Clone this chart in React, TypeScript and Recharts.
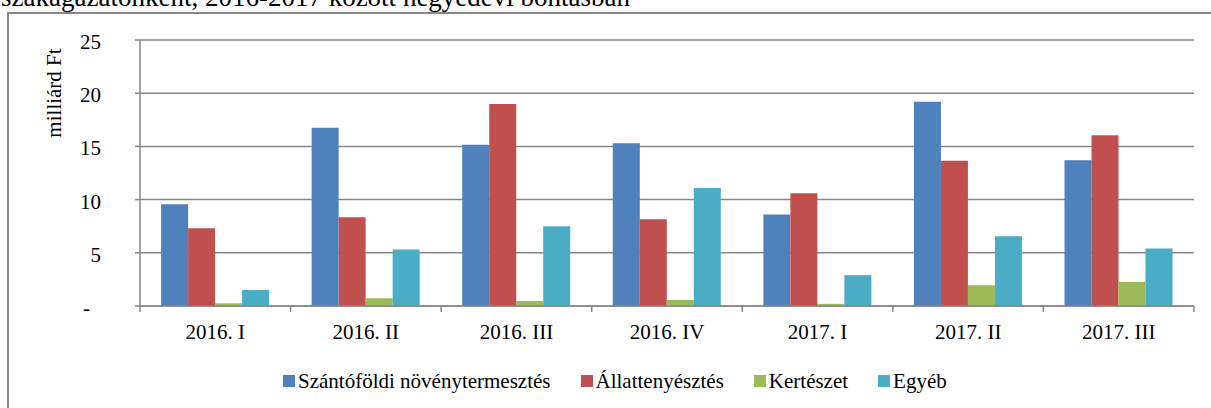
import React from 'react'
import { BarChart, Bar, XAxis, YAxis, CartesianGrid, Legend } from 'recharts'

const categories = ['2016. I', '2016. II', '2016. III', '2016. IV', '2017. I', '2017. II', '2017. III']
const szantofoldi = [9.57, 16.76, 15.15, 15.3, 8.6, 19.2, 13.7]
const allattenyesztes = [7.3, 8.34, 18.98, 8.15, 10.6, 13.65, 16.05]
const kerteszet = [0.25, 0.73, 0.47, 0.57, 0.2, 1.95, 2.27]
const egyeb = [1.51, 5.32, 7.49, 11.1, 2.9, 6.55, 5.4]
const yTicks = [0, 5, 10, 15, 20, 25]
const seriesKeys = ['szantofoldi', 'allattenyesztes', 'kerteszet', 'egyeb']

const data = categories.map((name, i) => ({
  name,
  szantofoldi: szantofoldi[i],
  allattenyesztes: allattenyesztes[i],
  kerteszet: kerteszet[i],
  egyeb: egyeb[i]
}))

const FONT = '"Liberation Serif", "Times New Roman", serif'
const GRAY = '#878787'

function XTick(props: any) {
  const { x, y, payload, index, visibleTicksCount } = props
  const half = payload.offset || 75
  const last = index === visibleTicksCount - 1
  return (
    <g>
      <line x1={x - half} x2={x - half} y1={y} y2={y + 6} stroke={GRAY} strokeWidth={1.5} />
      {last && <line x1={x + half} x2={x + half} y1={y} y2={y + 6} stroke={GRAY} strokeWidth={1.5} />}
      <text x={x} y={y + 33} textAnchor="middle" fontFamily={FONT} fontSize={21} fill="#000">
        {payload.value}
      </text>
    </g>
  )
}

function YTick(props: any) {
  const { x, y, payload } = props
  const zero = payload.value === 0
  return (
    <text x={zero ? x - 11 : x} y={y + 9} textAnchor="end" fontFamily={FONT} fontSize={21} fill="#000">
      {zero ? '-' : payload.value}
    </text>
  )
}

function LegendContent(props: any) {
  const items = [...(props.payload || [])].sort(
    (a: any, b: any) => seriesKeys.indexOf(a.dataKey) - seriesKeys.indexOf(b.dataKey)
  )
  return (
    <div style={{ display: 'flex', gap: 30, alignItems: 'center', fontFamily: FONT, fontSize: 21, lineHeight: '24px', whiteSpace: 'nowrap' }}>
      {items.map((item: any) => (
        <div key={item.value} style={{ display: 'flex', alignItems: 'center' }}>
          <span style={{ width: 12, height: 12, background: item.color, display: 'inline-block', marginRight: 3 }} />
          <span style={{ color: '#000' }}>{item.value}</span>
        </div>
      ))}
    </div>
  )
}

export default function App() {
  return (
    <div style={{ position: 'absolute', left: 0, top: 0, width: 1211, height: 408, overflow: 'hidden', background: '#fff' }}>
      <div style={{ position: 'absolute', left: 1, top: -16, fontFamily: FONT, fontSize: 27, lineHeight: '27px', whiteSpace: 'nowrap', color: '#000' }}>
        szakágazatonként, 2016-2017 között negyedévi bontásban
      </div>
      <div style={{ position: 'absolute', left: 7, top: 12, width: 1300, height: 500, border: `2px solid ${GRAY}` }} />
      <div style={{ position: 'absolute', left: 0, top: 0 }}>
        <BarChart
          width={1211}
          height={408}
          data={data}
          margin={{ top: 40, right: 17, left: 0, bottom: 62 }}
          barCategoryGap="14%"
          barGap={0}
        >
          <CartesianGrid vertical={false} stroke={GRAY} strokeWidth={1.5} />
          <XAxis
            dataKey="name"
            height={40}
            axisLine={{ stroke: GRAY, strokeWidth: 1.5 }}
            tickLine={false}
            tickSize={0}
            tickMargin={0}
            tick={<XTick />}
            interval={0}
          />
          <YAxis
            width={140}
            domain={[0, 25]}
            ticks={yTicks}
            interval={0}
            axisLine={{ stroke: GRAY, strokeWidth: 1.5 }}
            tickLine={{ stroke: GRAY, strokeWidth: 1.5 }}
            tickSize={5}
            tickMargin={34}
            tick={<YTick />}
            label={{
              content: () => (
                <text x={61} y={93} transform="rotate(-90 61 93)" textAnchor="middle" fontFamily={FONT} fontSize={21} fill="#000">
                  milliárd Ft
                </text>
              )
            }}
          />
          <Legend
            layout="horizontal"
            verticalAlign="middle"
            content={<LegendContent />}
            wrapperStyle={{ left: 283, top: 369, width: 'auto', height: 24 }}
          />
          <Bar dataKey="szantofoldi" name="Szántóföldi növénytermesztés" fill="#4F81BD" isAnimationActive={false} />
          <Bar dataKey="allattenyesztes" name="Állattenyésztés" fill="#C0504D" isAnimationActive={false} />
          <Bar dataKey="kerteszet" name="Kertészet" fill="#9BBB59" isAnimationActive={false} />
          <Bar dataKey="egyeb" name="Egyéb" fill="#4BACC6" isAnimationActive={false} />
        </BarChart>
      </div>
    </div>
  )
}
